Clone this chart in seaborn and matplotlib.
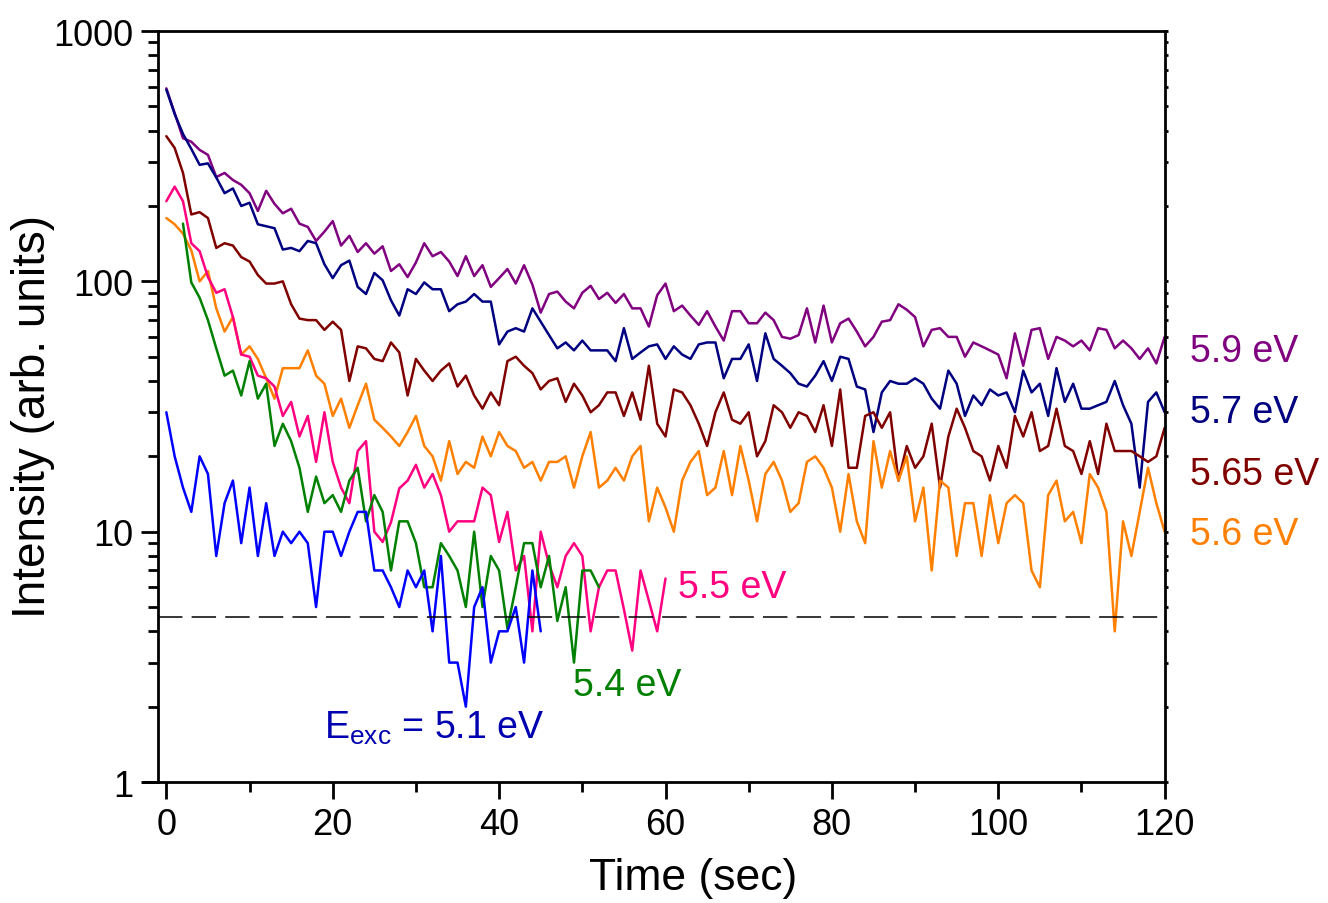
"""Photoluminescence decay curves at several excitation energies."""

import numpy as np
import pandas as pd
import matplotlib
matplotlib.use("Agg")
import matplotlib.pyplot as plt
import seaborn as sns
from matplotlib.ticker import LogLocator, NullFormatter, MultipleLocator

# intensity readings, one sample per second
i_59 = [590, 470, 373, 361, 335, 320, 261, 271, 254, 243, 225, 191, 230, 204, 187, 195, 170, 165, 145, 158,
        174, 139, 152, 131, 142, 129, 138, 110, 117, 104, 119, 142, 126, 131, 120, 105, 126, 105, 116, 95,
        103, 112, 98, 116, 97, 75, 89, 91, 83, 78, 90, 96, 85, 90, 82, 89, 78, 78, 66, 88,
        98, 76, 80, 73, 67, 76, 66, 58, 76, 76, 68, 68, 75, 70, 60, 59, 61, 78, 57, 80,
        57, 68, 71, 63, 55, 60, 69, 70, 81, 77, 72, 55, 64, 65, 60, 60, 50, 57, 55, 53,
        51, 41, 62, 46, 64, 65, 49, 60, 58, 55, 58, 53, 65, 64, 54, 58, 54, 49, 54, 47, 60]
i_57 = [583, 466, 388, 338, 292, 296, 260, 225, 235, 200, 206, 169, 166, 163, 134, 136, 132, 145, 142, 117,
        103, 116, 121, 95, 89, 108, 101, 84, 73, 93, 89, 99, 93, 93, 76, 81, 83, 89, 83, 83,
        56, 63, 65, 63, 78, 69, 61, 54, 57, 53, 58, 53, 53, 53, 48, 65, 49, 52, 55, 56,
        49, 55, 51, 49, 56, 57, 57, 41, 49, 49, 56, 40, 62, 49, 46, 43, 39, 38, 42, 48,
        40, 50, 49, 38, 37, 25, 36, 40, 39, 39, 41, 39, 34, 31, 44, 39, 29, 35, 32, 37,
        35, 36, 30, 44, 36, 39, 29, 45, 33, 39, 31, 31, 32, 33, 40, 32, 27, 15, 33, 36, 30]
i_565 = [380, 341, 271, 185, 189, 179, 136, 142, 139, 125, 120, 106, 98, 98, 100, 81, 71, 70, 70, 64,
         69, 64, 40, 55, 54, 49, 48, 57, 52, 35, 49, 44, 40, 44, 47, 38, 42, 35, 31, 36,
         32, 48, 50, 46, 43, 37, 40, 41, 33, 39, 35, 30, 32, 36, 36, 29, 36, 28, 46, 27,
         24, 37, 36, 32, 27, 22, 30, 36, 28, 27, 30, 20, 23, 32, 30, 26, 30, 29, 25, 32,
         22, 37, 18, 18, 29, 30, 26, 30, 16, 22, 18, 20, 27, 15, 24, 31, 26, 21, 20, 16,
         22, 18, 29, 24, 30, 21, 22, 31, 22, 21, 17, 23, 17, 27, 21, 21, 21, 20, 19, 20, 26]
i_56 = [179, 169, 155, 133, 100, 110, 78, 63, 72, 51, 55, 49, 41, 34, 45, 45, 45, 53, 42, 39,
        29, 34, 26, 32, 39, 28, 26, 24, 22, 25, 29, 22, 20, 16, 23, 17, 19, 18, 24, 20,
        25, 22, 21, 18, 19, 16, 19, 19, 20, 15, 20, 25, 15, 16, 18, 16, 20, 22, 11, 15,
        12.5, 10, 16, 19, 21, 14, 15, 21, 14, 22, 16, 11, 17, 19, 16, 12, 13, 19, 20, 18,
        15, 10, 17, 11, 9, 23, 15, 21, 16, 20, 11, 15, 7, 16, 15, 8, 13, 13, 8, 14,
        9, 13, 14, 13, 7, 6, 14, 16, 11, 12, 9, 17, 15, 12, 4, 11, 8, 12, 18, 13, 10]
i_55 = [209, 239, 209, 142, 132, 104, 90, 93, 72, 51, 50, 42, 41, 38, 29, 33, 24, 29, 19, 30,
        19, 15, 13, 21, 23, 10, 9.1, 10.9, 14.9, 16, 18.5, 15, 17, 14, 10, 11, 11, 11, 15, 14,
        9.1, 12, 7, 8, 4, 10, 7.4, 6, 8, 9, 8, 4, 6, 7, 7, 4.9, 3.35, 7, 5.3, 4, 6.5]
i_54 = [170, 99, 86, 70, 54, 42, 44, 35, 48, 34, 39, 22, 27, 23, 18, 12, 16.6, 13, 14, 12,
        16, 18, 11, 14, 12, 7, 11, 11, 9, 6, 6, 9, 8, 7, 5, 10, 5, 8, 7, 4.1,
        6, 9, 9, 6, 8, 4.4, 6, 3, 7, 7, 6]
i_51 = [30, 20, 15, 12, 20, 17, 8, 13, 16, 9, 15, 8, 13, 8, 10, 9, 10, 9, 5, 10,
        10, 8, 10, 12, 12, 7, 7, 6, 5, 7, 6, 7, 4, 8, 3, 3, 2, 5, 6, 3,
        4, 4, 5, 3, 7, 4]

series_names = ["5.9 eV", "5.7 eV", "5.65 eV", "5.6 eV", "5.5 eV", "5.4 eV", "5.1 eV"]
series_data = [i_59, i_57, i_565, i_56, i_55, i_54, i_51]
start_time = [0, 0, 0, 0, 0, 2, 0]
colors = ["#800080", "#000080", "#800000", "#FF8000", "#FF0080", "#008000", "#0000FF"]
noise_level = 4.55

frames = []
for name, vals, t0 in zip(series_names, series_data, start_time):
    frames.append(pd.DataFrame({"time": np.arange(len(vals)) + t0, "intensity": vals, "series": name}))
df = pd.concat(frames, ignore_index=True)

sns.set_style("ticks")
plt.rcParams["font.family"] = ["Liberation Sans", "DejaVu Sans"]
plt.rcParams["mathtext.fontset"] = "custom"
plt.rcParams["mathtext.rm"] = "Liberation Sans"
plt.rcParams["mathtext.it"] = "Liberation Sans:italic"
for key in ["text.color", "axes.labelcolor", "axes.edgecolor", "xtick.color", "ytick.color"]:
    plt.rcParams[key] = "black"

fig = plt.figure(figsize=(13.28, 9.04), dpi=100)
ax = fig.add_axes([0.119, 0.1338, 0.758, 0.8308])

sns.lineplot(data=df, x="time", y="intensity", hue="series", hue_order=series_names,
             palette=dict(zip(series_names, colors)), estimator=None, lw=1.8,
             legend=False, ax=ax)

ax.axhline(noise_level, color="black", lw=1.1, linestyle=(0, (16, 6)))

ax.set_yscale("log")
ax.set_ylim(1, 1000)
ax.set_xlim(-1, 120)
ax.set_yticks([1, 10, 100, 1000], labels=["1", "10", "100", "1000"])
ax.yaxis.set_minor_locator(LogLocator(base=10, subs=np.arange(2, 10)))
ax.yaxis.set_minor_formatter(NullFormatter())
ax.xaxis.set_major_locator(MultipleLocator(20))
ax.xaxis.set_minor_locator(MultipleLocator(10))

for side in ["left", "bottom", "right", "top"]:
    ax.spines[side].set_linewidth(2)
ax.tick_params(which="major", direction="out", length=12, width=2, labelsize=26, pad=6)
ax.tick_params(which="minor", direction="out", length=7, width=2)

# tiny outward ticks on the right spine
ax_r = ax.twinx()
ax_r.set_yscale("log")
ax_r.set_ylim(1, 1000)
ax_r.yaxis.set_minor_locator(LogLocator(base=10, subs=np.arange(2, 10)))
ax_r.yaxis.set_major_formatter(NullFormatter())
ax_r.yaxis.set_minor_formatter(NullFormatter())
ax_r.tick_params(which="both", direction="out", length=2.5, width=2)
for side in ax_r.spines:
    ax_r.spines[side].set_visible(False)

ax.set_xlabel("Time (sec)", fontsize=32)
ax.xaxis.set_label_coords(0.532, -0.1)
ax.set_ylabel("Intensity (arb. units)", fontsize=33)
ax.yaxis.set_label_coords(-0.102, 0.488)

# bottom axis line runs a little past the left spine
ax.plot([-0.015, 0], [0, 0], transform=ax.transAxes, color="black", lw=2, clip_on=False)

label_kw = dict(fontsize=27, ha="left", va="baseline")
ax.text(123, 48.2, "5.9 eV", color="#800080", clip_on=False, **label_kw)
ax.text(123, 27.4, "5.7 eV", color="#000080", clip_on=False, **label_kw)
ax.text(123, 15.5, "5.65 eV", color="#800000", clip_on=False, **label_kw)
ax.text(123, 8.93, "5.6 eV", color="#FF8000", clip_on=False, **label_kw)
ax.text(61.5, 5.5, "5.5 eV", color="#FF0080", **label_kw)
ax.text(48.9, 2.23, "5.4 eV", color="#008000", **label_kw)
ax.text(18.9, 1.5, r"E$_{\mathrm{exc}}$ = 5.1 eV", color="#0000B0", **label_kw)

fig.savefig("out.png", dpi=100)
plt.close(fig)
